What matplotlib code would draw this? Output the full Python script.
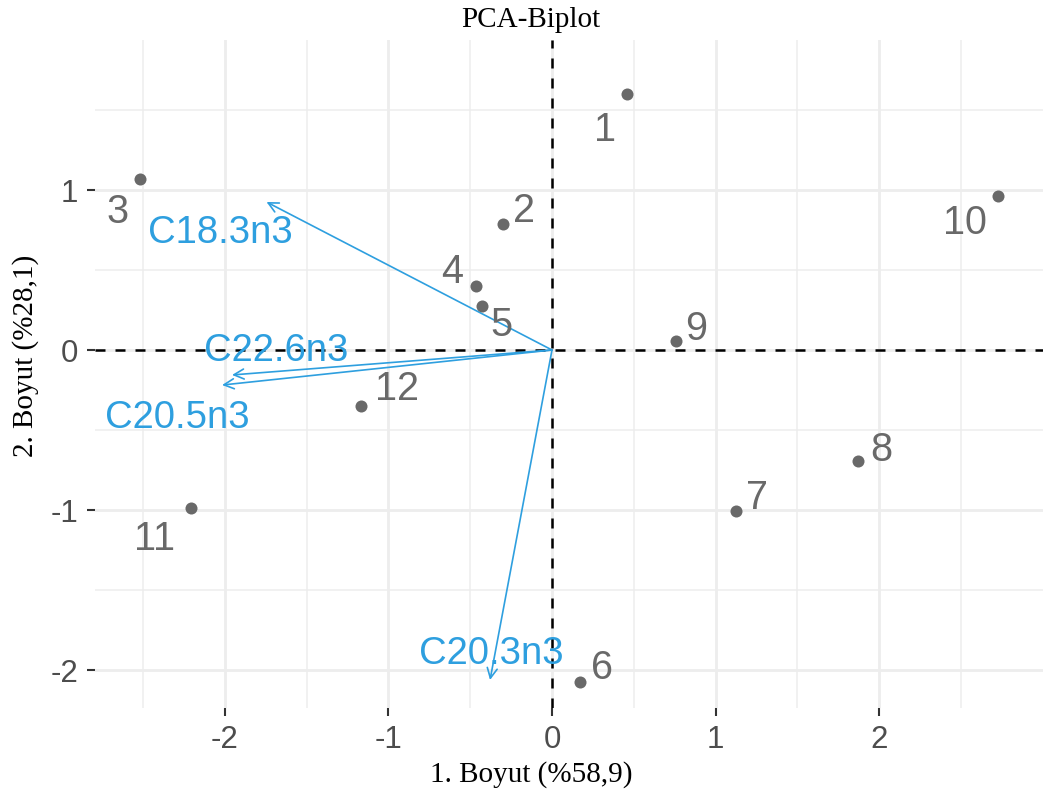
import matplotlib
matplotlib.use("Agg")
import matplotlib.pyplot as plt
import numpy as np

# ---- data ----
ind_labels = ["1", "2", "3", "4", "5", "6", "7", "8", "9", "10", "11", "12"]
ind_x = [0.46, -0.30, -2.52, -0.465, -0.43, 0.17, 1.125, 1.87, 0.76, 2.73, -2.21, -1.17]
ind_y = [1.60, 0.79, 1.07, 0.40, 0.275, -2.075, -1.006, -0.694, 0.056, 0.96, -0.99, -0.35]

var_labels = ["C18.3n3", "C22.6n3", "C20.5n3", "C20.3n3"]
var_x = [-1.746, -1.957, -2.018, -0.379]
var_y = [0.925, -0.156, -0.219, -2.0625]

x_ticks = [-2, -1, 0, 1, 2]
y_ticks = [-2, -1, 0, 1]

title = "PCA-Biplot"
x_label = "1. Boyut (%58,9)"
y_label = "2. Boyut (%28,1)"

# ---- layout (label offsets in points) ----
ind_offsets = [(-16, -26), (15, 9), (-16, -24), (-17, 10), (14, -14), (16, 10),
               (15, 9), (17, 8), (14, 9), (-24, -19), (-26, -22), (26, 12)]
var_offsets = [(-33, -22), (32, 17), (-32, -24), (1, 19)]

col_ind = "#696969"
col_var = "#2E9FDF"

fig = plt.figure(figsize=(10.5, 7.96), dpi=100)
ax = fig.add_axes([95/1050, 1-708/796, (1043-95)/1050, (708-40)/796])

ax.set_xlim(-2.795, 3.003)
ax.set_ylim(-2.2375, 1.9375)

# grid
for v in np.arange(-2.5, 3.0, 0.5):
    major = float(v).is_integer()
    ax.axvline(v, color="#EDEDED", lw=2.0 if major else 1.1, zorder=0)
for v in np.arange(-2.0, 2.0, 0.5):
    major = float(v).is_integer()
    ax.axhline(v, color="#EDEDED", lw=2.0 if major else 1.1, zorder=0)

ax.axhline(0, color="black", ls=(0, (4, 4)), lw=1.8, zorder=1)
ax.axvline(0, color="black", ls=(0, (4, 4)), lw=1.8, zorder=1)

# points
ax.scatter(ind_x, ind_y, s=75, color=col_ind, zorder=4, linewidths=0)
for lab, x, y, off in zip(ind_labels, ind_x, ind_y, ind_offsets):
    ax.annotate(lab, (x, y), xytext=off, textcoords="offset points",
                ha="center", va="center", fontsize=28.5, color=col_ind,
                family="Liberation Sans", zorder=5)

# variable arrows
for lab, x, y, off in zip(var_labels, var_x, var_y, var_offsets):
    ax.annotate("", xy=(x, y), xytext=(0, 0),
                arrowprops=dict(arrowstyle="->", color=col_var, lw=1.2,
                                mutation_scale=18, shrinkA=0, shrinkB=0),
                zorder=3)
    ax.annotate(lab, (x, y), xytext=off, textcoords="offset points",
                ha="center", va="center", fontsize=27.5, color=col_var,
                family="Liberation Sans", zorder=5)

for s in ax.spines.values():
    s.set_visible(False)
ax.set_xticks(x_ticks)
ax.set_yticks(y_ticks)
ax.set_xticklabels([str(t) for t in x_ticks])
ax.set_yticklabels([str(t) for t in y_ticks])
ax.tick_params(axis="both", length=6, width=1.5, color="#333333",
               labelcolor="#4D4D4D", labelsize=22.5, pad=6, direction="out")
for lab in ax.get_xticklabels() + ax.get_yticklabels():
    lab.set_family("Liberation Sans")

fig.text(531/1050, 1-20/796, title, ha="center", va="center",
         fontsize=21, family="Liberation Serif")
fig.text(531/1050, 1-775/796, x_label, ha="center", va="center",
         fontsize=21, family="Liberation Serif")
fig.text(26/1050, 1-356/796, y_label, ha="center", va="center",
         fontsize=21, family="Liberation Serif", rotation=90)

fig.savefig("out.png", dpi=100)
